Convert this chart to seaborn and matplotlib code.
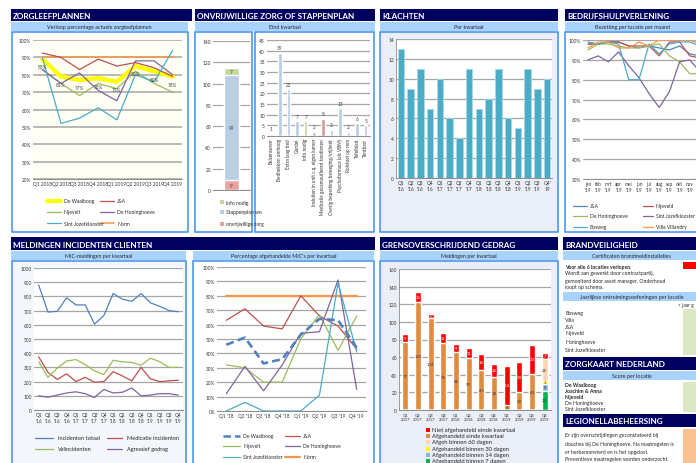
import matplotlib
matplotlib.use("Agg")
import numpy as np
import matplotlib.pyplot as plt
from matplotlib.patches import Rectangle
from matplotlib.lines import Line2D
import seaborn as sns

# ---------------- data ----------------
# Zorgleefplannen (% actuele zorgleefplannen)
zlp_quarters = ["Q1 2018", "Q2 2018", "Q3 2018", "Q4 2018", "Q1 2019", "Q2 2019", "Q3 2019", "Q4 2019"]
zlp_waalboog = [89, 79, 77, 78, 76, 85, 82, 79]
zlp_ja = [92.5, 90, 83, 89, 85, 87, 84, 79]
zlp_nijeveld = [83, 75, 68, 75, 72, 82, 75, 70]
zlp_honinghoeve = [83, 75, 81, 71, 65, 88, 88, 80]
zlp_jozef = [90, 52, 55, 61, 54, 80, 76, 94]
zlp_norm = [90, 90, 90, 90, 90, 90, 90, 90]
zlp_labels = ["85%", "81%", "77%", "78%", "75%", "80%", "82%", "78%"]

# Onvrijwillige zorg - stacked total
oz_parts = ["onvrijwillige zorg", "Stappenplan wo", "info nodig"]
oz_values = [9, 99, 7]

# Onvrijwillige zorg - eind kwartaal
ek_cats = ["Belsensoren", "Bedhekken omhoog", "Extra laag bed", "Gordel", "Info nodig",
           "Insluiten in unit c.q. eigen kamer", "Medicatie gecamoufleerd toedienen",
           "Overig beperking beweging/vrijheid", "Psychofarmaca (als VBM)", "Rolstoel op rem",
           "Tafelblad", "Tentbed"]
ek_values = [1, 39, 22, 7, 7, 2, 8, 3, 13, 2, 6, 5]

# Klachten per kwartaal
kl_quarters = ["Q1\n'16", "Q2\n'16", "Q3\n'16", "Q4\n'16", "Q1\n'17", "Q2\n'17", "Q3\n'17", "Q4\n'17",
               "Q1\n'18", "Q2\n'18", "Q3\n'18", "Q4\n'18", "Q1\n'19", "Q2\n'19", "Q3\n'19", "Q4'\n19"]
kl_values = [13, 9, 11, 7, 10, 6, 4, 11, 7, 8, 11, 6, 5, 11, 9, 10]

# Bedrijfshulpverlening bezetting per maand
bhv_months = ["jan\n'19", "feb\n'19", "mrt\n'19", "apr\n'19", "mei\n'19", "jun\n'19",
              "jul\n'19", "aug\n'19", "sep\n'19", "okt\n'19", "nov\n'19", "dec\n'19"]
bhv_ja = [98, 98, 99, 99, 97, 96, 97, 96, 95, 97, 93, 92]
bhv_nijeveld = [98, 98, 99, 99, 97, 97, 97, 92, 99, 99, 92, 91]
bhv_honinghoeve = [95, 98, 98, 97, 96, 96, 97, 98, 92, 89, 83, 83]
bhv_jozef = [90, 92, 89, 94, 87, 81, 73, 66, 74, 89, 90, 84]
bhv_bosweg = [99, 98, 99, 98, 80, 80, 98, 93, 98, 99, 99, 97]
bhv_villa = [96, 99, 99, 96, 96, 99, 97, 100, 100, 100, 100, 98]

# MIC-meldingen per kwartaal
mic_quarters = kl_quarters[:-1] + ["Q4\n'19"]
mic_totaal = [880, 690, 695, 790, 740, 740, 605, 665, 820, 780, 765, 820, 755, 730, 700, 692]
mic_medicatie = [375, 265, 215, 255, 200, 230, 195, 200, 270, 240, 205, 300, 220, 200, 205, 210]
mic_val = [340, 230, 295, 345, 355, 320, 275, 250, 350, 340, 335, 315, 365, 340, 300, 300]
mic_agressie = [100, 90, 105, 120, 128, 115, 88, 145, 120, 125, 155, 100, 105, 115, 115, 105]

# Percentage afgehandelde MIC's
afh_quarters = ["Q1 '18", "Q2 '18", "Q3 '18", "Q4 '18", "Q1 '19", "Q2 '19", "Q3 '19", "Q4 '19"]
afh_waalboog = [46, 51, 33, 36, 53, 64, 63, 44]
afh_ja = [63, 71, 59, 57, 80, 66, 59, 43]
afh_nijeveld = [32, 30, 20, 20, 50, 67, 42, 66]
afh_honinghoeve = [12, 31, 14, 32, 54, 55, 91, 15]
afh_jozef = [0, 6, 0, 0, 0, 11, 89, 41]
afh_norm = [80, 80, 80, 80, 80, 80, 80, 80]

# Grensoverschrijdend gedrag
gg_quarters = ["Q1\n2017", "Q2\n2017", "Q3\n2017", "Q4\n2017", "Q1\n2018", "Q2\n2018",
               "Q3\n2018", "Q4\n2018", "Q1\n2019", "Q2\n2019", "Q3\n2019", "Q4\n2019"]
gg_7d = [0, 0, 0, 0, 0, 0, 0, 0, 0, 0, 0, 22]
gg_14d = [0, 0, 0, 0, 0, 0, 0, 0, 0, 0, 0, 8]
gg_30d = [0, 0, 0, 0, 0, 0, 0, 0, 0, 0, 0, 3]
gg_60d = [0, 0, 0, 0, 0, 0, 0, 0, 0, 0, 0, 25]
gg_afgehandeld = [77, 122, 104, 76, 66, 59, 45, 38, 6, 20, 41, 0]
gg_niet = [9, 12, 5, 11, 9, 11, 18, 14, 44, 34, 33, 7]

# colours (Excel 2007 palette)
BLUE, RED, GREEN, PURPLE, TEAL, ORANGE = "#4F81BD", "#C0504D", "#9BBB59", "#8064A2", "#4BACC6", "#F79646"
NAVY, SUB, FRAME = "#00005E", "#A9D3FF", "#3E8EF0"
GRID = "#A6A6A6"

sns.set_style("white")
plt.rcParams["font.family"] = ["Lato", "DejaVu Sans"]

W, H = 696, 464
fig = plt.figure(figsize=(W / 100, H / 100), dpi=100)
fig.patch.set_facecolor("white")


def fx(x):
    return x / W


def fy(y):
    return 1 - y / H


def box(x0, y0, x1, y1, fc, ec="none", lw=0, z=-2):
    fig.add_artist(Rectangle((fx(x0), fy(y1)), (x1 - x0) / W, (y1 - y0) / H, transform=fig.transFigure,
                             facecolor=fc, edgecolor=ec, linewidth=lw, zorder=z))


def txt(x, y, s, size=3.8, **kw):
    kw.setdefault("va", "center")
    kw.setdefault("color", "#262626")
    fig.text(fx(x), fy(y), s, fontsize=size, **kw)


def header(x0, x1, y0, y1, title):
    box(x0, y0, x1, y1, NAVY)
    txt(x0 + 2, (y0 + y1) / 2 + 0.5, title, size=5.9, color="white", weight="bold")


def subtitle(x0, x1, y0, y1, title):
    box(x0, y0, x1, y1, SUB)
    txt((x0 + x1) / 2, (y0 + y1) / 2, title, size=3.9, ha="center")


def panel(x0, y0, x1, y1, fc="white"):
    box(x0, y0, x1, y1, fc, ec=FRAME, lw=1.1)


def make_ax(x0, y0, x1, y1, fc="white", left_spine=False):
    ax = fig.add_axes([fx(x0), fy(y1), (x1 - x0) / W, (y1 - y0) / H])
    ax.set_facecolor(fc)
    for s in ["top", "right"]:
        ax.spines[s].set_visible(False)
    ax.spines["left"].set_visible(left_spine)
    ax.spines["left"].set_color("#8C8C8C")
    ax.spines["left"].set_linewidth(0.6)
    ax.spines["bottom"].set_color("#8C8C8C")
    ax.spines["bottom"].set_linewidth(0.7)
    ax.yaxis.grid(True, color=GRID, lw=0.9)
    ax.xaxis.grid(False)
    ax.set_axisbelow(True)
    ax.tick_params(length=0, labelsize=3.4, pad=1.5, colors="#333333")
    return ax


def leg_line(x, y, color, label, lw=0.9, ls="-", length=14, gap=3, size=3.6):
    fig.add_artist(Line2D([fx(x), fx(x + length)], [fy(y), fy(y)], transform=fig.transFigure,
                          color=color, lw=lw, ls=ls))
    txt(x + length + gap, y, label, size=size)


def leg_square(x, y, color, label, size=3.6):
    box(x - 2, y - 2, x + 2, y + 2, color, z=2)
    txt(x + 4, y, label, size=size)


def pct_labels(ax, ticks):
    ax.set_yticks(ticks, [f"{t}%" for t in ticks])


# ================= ZORGLEEFPLANNEN =================
header(11, 192, 9.5, 22, "ZORGLEEFPLANNEN")
subtitle(11, 188, 23, 32, "Verloop percentage actuele zorgleefplannen")
panel(12, 33, 188, 233)
ax = make_ax(33, 41, 182, 180, fc="#FFFFF6")
idx = np.arange(len(zlp_quarters))
sns.lineplot(x=idx, y=zlp_norm, color=ORANGE, lw=1.1, ax=ax)
sns.lineplot(x=idx, y=zlp_waalboog, color="#FFFF00", lw=3.2, ax=ax)
sns.lineplot(x=idx, y=zlp_ja, color=RED, lw=0.9, ax=ax)
sns.lineplot(x=idx, y=zlp_nijeveld, color=GREEN, lw=0.9, ax=ax)
sns.lineplot(x=idx, y=zlp_honinghoeve, color=PURPLE, lw=0.9, ax=ax)
sns.lineplot(x=idx, y=zlp_jozef, color=TEAL, lw=0.9, ax=ax)
for i, (v, lab) in enumerate(zip(zlp_waalboog, zlp_labels)):
    ax.text(i, v - 4.5, lab, ha="center", va="center", fontsize=3.4, color="#404040")
ax.set_xlim(-0.5, len(zlp_quarters) - 0.5)
ax.set_ylim(20, 100)
pct_labels(ax, list(range(20, 101, 10)))
ax.set_xticks(idx, zlp_quarters)
ax.yaxis.grid(True, color="#B3B3B3", lw=1.3)
leg_line(47, 202, "#FFFF00", "De Waalboog", lw=3)
leg_line(100, 202, RED, "J&A")
leg_line(47, 213, GREEN, "Nijevelt")
leg_line(100, 213, PURPLE, "De Honinghoeve")
leg_line(47, 224, TEAL, "Sint Jozefklooster")
leg_line(100, 224, ORANGE, "Norm", lw=1.1)

# ================= ONVRIJWILLIGE ZORG =================
header(195, 375, 9.5, 22, "ONVRIJWILLIGE ZORG OF STAPPENPLAN")
subtitle(195, 375, 23, 32, "Eind kwartaal")
panel(195, 33, 252, 233)
panel(255, 33, 374, 233)

oz_colors = ["#E6A3A1", "#B9CDE5", "#C3D69B"]
ax = make_ax(213, 42, 250, 191)
cum = np.cumsum(oz_values)
for k in range(len(oz_values) - 1, -1, -1):
    sns.barplot(x=["x"], y=[cum[k]], color=oz_colors[k], saturation=1, width=0.38, ax=ax)
    ax.text(0, cum[k] - oz_values[k] / 2, str(oz_values[k]), ha="center", va="center",
            fontsize=3.4, color="#404040")
ax.set_ylim(0, 140)
ax.set_yticks(range(0, 141, 20))
ax.set_xticks([])
ax.set_xlabel("")
ax.set_ylabel("")
ax.set_xlim(-0.5, 0.5)
for k, lab in zip([2, 1, 0], [203, 213, 225]):
    leg_square(222, lab, oz_colors[k], oz_parts[k])

ek_colors = ["#B9CDE5"] * len(ek_cats)
ek_colors[4] = "#C3D69B"
ek_colors[5] = "#E6B9B8"
ek_colors[6] = "#DA9694"
ax = make_ax(267, 41, 370, 137)
sns.barplot(x=ek_cats, y=ek_values, hue=ek_cats, palette=ek_colors, saturation=1, width=0.4,
            legend=False, ax=ax)
for i, v in enumerate(ek_values):
    ax.text(i, v + 1.2, str(v), ha="center", va="bottom", fontsize=3.4, color="#404040")
ax.set_ylim(0, 45)
ax.set_yticks(range(0, 46, 5))
ax.set_xticks(range(len(ek_cats)), ek_cats, rotation=90)
ax.set_xlabel("")
ax.set_ylabel("")

# ================= KLACHTEN =================
header(380, 558, 9.5, 22, "KLACHTEN")
subtitle(380, 558, 23, 32, "Per kwartaal")
panel(380, 33, 558, 233, fc="#E9EEF7")
ax = make_ax(396, 40, 552, 179, left_spine=True)
sns.barplot(x=kl_quarters, y=kl_values, color=TEAL, saturation=1, width=0.66,
            edgecolor="#A8D8E6", linewidth=0.6, ax=ax)
ax.set_ylim(0, 14)
ax.set_yticks(range(0, 15, 2))
ax.set_xlabel("")
ax.set_ylabel("")

# ================= BEDRIJFSHULPVERLENING =================
header(565, 700, 9.5, 22, "BEDRIJFSHULPVERLENING")
subtitle(565, 700, 23, 32, "Bezetting per locatie per maand")
panel(565, 33, 705, 233)
ax = make_ax(583, 41, 705, 180)
idx = np.arange(len(bhv_months))
for vals, c in [(bhv_ja, BLUE), (bhv_nijeveld, RED), (bhv_honinghoeve, GREEN),
                (bhv_jozef, PURPLE), (bhv_bosweg, TEAL), (bhv_villa, ORANGE)]:
    sns.lineplot(x=idx, y=vals, color=c, lw=0.9, ax=ax)
ax.set_xlim(-0.5, len(bhv_months) - 0.5)
ax.set_ylim(30, 100)
pct_labels(ax, list(range(30, 101, 10)))
# last month falls outside the visible area, as in the dashboard crop
ax.set_xticks(idx[:-1], bhv_months[:-1])
leg_line(573, 207, BLUE, "J&A")
leg_line(643, 207, RED, "Nijeveld", length=10)
leg_line(573, 217, GREEN, "De Honinghoeve")
leg_line(643, 217, PURPLE, "Sint Jozefklooster", length=10, size=3.5)
leg_line(573, 228, TEAL, "Bosweg")
leg_line(643, 228, ORANGE, "Villa Villandry", length=10)

# ================= MELDINGEN INCIDENTEN CLIENTEN =================
header(11, 375, 238, 251, "MELDINGEN INCIDENTEN CLIENTEN")
subtitle(11, 186, 252, 261, "MIC-meldingen per kwartaal")
subtitle(193, 374, 252, 261, "Percentage afgehandelde MIC's per kwartaal")
panel(12, 262, 186, 470, fc="#F3F6FB")
panel(193, 262, 374, 470)

ax = make_ax(34, 269, 183, 411)
idx = np.arange(len(mic_quarters))
for vals, c in [(mic_totaal, BLUE), (mic_medicatie, RED), (mic_val, GREEN), (mic_agressie, PURPLE)]:
    sns.lineplot(x=idx, y=vals, color=c, lw=0.9, ax=ax)
ax.set_xlim(-0.5, len(mic_quarters) - 0.5)
ax.set_ylim(0, 1000)
ax.set_yticks(range(0, 1001, 100))
ax.set_xticks(idx, mic_quarters)
leg_line(35, 439, BLUE, "Incidenten totaal", length=18, gap=5, size=4.1)
leg_line(107, 439, RED, "Medicatie incidenten", length=15, gap=5, size=4.1)
leg_line(35, 450, GREEN, "Valincidenten", length=18, gap=5, size=4.1)
leg_line(107, 450, PURPLE, "Agressief gedrag", length=15, gap=5, size=4.1)

ax = make_ax(217, 268, 366, 412)
idx = np.arange(len(afh_quarters))
sns.lineplot(x=idx, y=afh_norm, color=ORANGE, lw=1.6, ax=ax)
sns.lineplot(x=idx, y=afh_ja, color=RED, lw=0.9, ax=ax)
sns.lineplot(x=idx, y=afh_nijeveld, color=GREEN, lw=0.9, ax=ax)
sns.lineplot(x=idx, y=afh_honinghoeve, color=PURPLE, lw=0.9, ax=ax)
sns.lineplot(x=idx, y=afh_jozef, color=TEAL, lw=0.9, ax=ax)
sns.lineplot(x=idx, y=afh_waalboog, color=BLUE, lw=1.9, ls=(0, (3, 1.6)), ax=ax)
ax.set_xlim(-0.5, len(afh_quarters) - 0.5)
ax.set_ylim(0, 100)
pct_labels(ax, list(range(0, 101, 10)))
ax.set_xticks(idx, afh_quarters)
leg_line(223, 437, BLUE, "De Waalboog", lw=1.8, ls=(0, (3, 1.6)), length=17)
leg_line(285, 437, RED, "J&A", length=15)
leg_line(223, 447, GREEN, "Nijevelt", length=17)
leg_line(285, 447, PURPLE, "De Honinghoeve", length=15)
leg_line(223, 458, TEAL, "Sint Jozefklooster", length=17)
leg_line(285, 458, ORANGE, "Norm", lw=1.6, length=15)

# ================= GRENSOVERSCHRIJDEND GEDRAG =================
header(380, 558, 238, 251, "GRENSOVERSCHRIJDEND GEDRAG")
subtitle(380, 558, 252, 261, "Meldingen per kwartaal")
panel(380, 262, 558, 470, fc="#E9EEF7")
ax = make_ax(399, 270, 551, 411, left_spine=True)
gg_series = [gg_7d, gg_14d, gg_30d, gg_60d, gg_afgehandeld, gg_niet]
gg_names = ["Afgehandeld binnen 7 dagen", "Afgehandeld binnen 14 dagen", "Afgehandeld binnen 30 dagen",
            "Afgeh binnen 60 dagen", "Afgehandeld einde kwartaal", "Niet afgehandeld einde kwartaal"]
gg_colors = ["#00B050", "#8DB4E2", "#FFFF00", "#FCD5B4", "#E08B3E", "#FF0000"]
gg_cum = np.cumsum(np.array(gg_series), axis=0)
for k in range(len(gg_series) - 1, -1, -1):
    sns.barplot(x=gg_quarters, y=gg_cum[k], color=gg_colors[k], saturation=1, width=0.46, ax=ax)
for k in range(len(gg_series)):
    for i, v in enumerate(gg_series[k]):
        if v > 0:
            ax.text(i, gg_cum[k][i] - v / 2, str(v), ha="center", va="center", fontsize=3.1,
                    color="white" if k == 5 else "#3A3A3A")
ax.set_ylim(0, 160)
ax.set_yticks(range(0, 161, 20))
ax.tick_params(axis="x", labelsize=3.0)
ax.set_xlabel("")
ax.set_ylabel("")
for k, yy in zip(range(5, -1, -1), [431, 437, 443, 450, 456, 462]):
    leg_square(428, yy, gg_colors[k], gg_names[k], size=4.2)

# ================= BRANDVEILIGHEID / ZORGKAART / LEGIONELLA =================
header(563, 700, 238, 251, "BRANDVEILIGHEID")
subtitle(563, 700, 252, 261, "Certificaten brandmeldinstallaties")
box(683, 263, 700, 270, "#FF0000")
txt(565, 267, "Voor alle 6 locaties verlopen.", size=3.7, weight="bold")
txt(565, 273, "Wordt aan gewerkt door contractpartij,", size=3.7)
txt(565, 282, "gemonitord door asset manager. Onderhoud", size=3.7)
txt(565, 288, "loopt op schema.", size=3.7)
subtitle(563, 700, 293, 302, "Jaarlijkse ontruimingsoefeningen per locatie")
txt(678, 306, "< jaar g", size=3.5)
box(683, 310, 700, 356, "#DCE8C4")
for yy, name in zip([314, 320, 328, 334, 343, 351],
                    ["Bosweg", "Villa", "J&A", "Nijeveld", "Honinghoeve", "Sint Jozefklooster"]):
    txt(565, yy, name, size=3.7)
header(563, 700, 358, 371, "ZORGKAART NEDERLAND")
subtitle(563, 700, 372, 381, "Score per locatie")
box(683, 383, 700, 413, "#DCE8C4")
for yy, name, w in zip([386, 392, 398, 404, 410],
                       ["De Waalboog", "Joachim & Anna", "Nijeveld", "De Honinghoeve", "Sint Jozefklooster"],
                       ["bold", "bold", "bold", "normal", "normal"]):
    txt(565, yy, name, size=3.7, weight=w)
header(563, 700, 415, 428, "LEGIONELLABEHEERSING")
box(683, 430, 700, 466, "#F9C18F")
for yy, line in zip([436, 445, 453, 460],
                    ["Er zijn overschrijdingen geconstateerd bij",
                     "douches bij De Honinghoeve. Na maatregelen is",
                     "er herbemonsterd en is het opgelost.",
                     "Preventieve maatregelen worden onderzocht."]):
    txt(565, yy, line, size=3.7)

fig.savefig("out.png", dpi=100)
